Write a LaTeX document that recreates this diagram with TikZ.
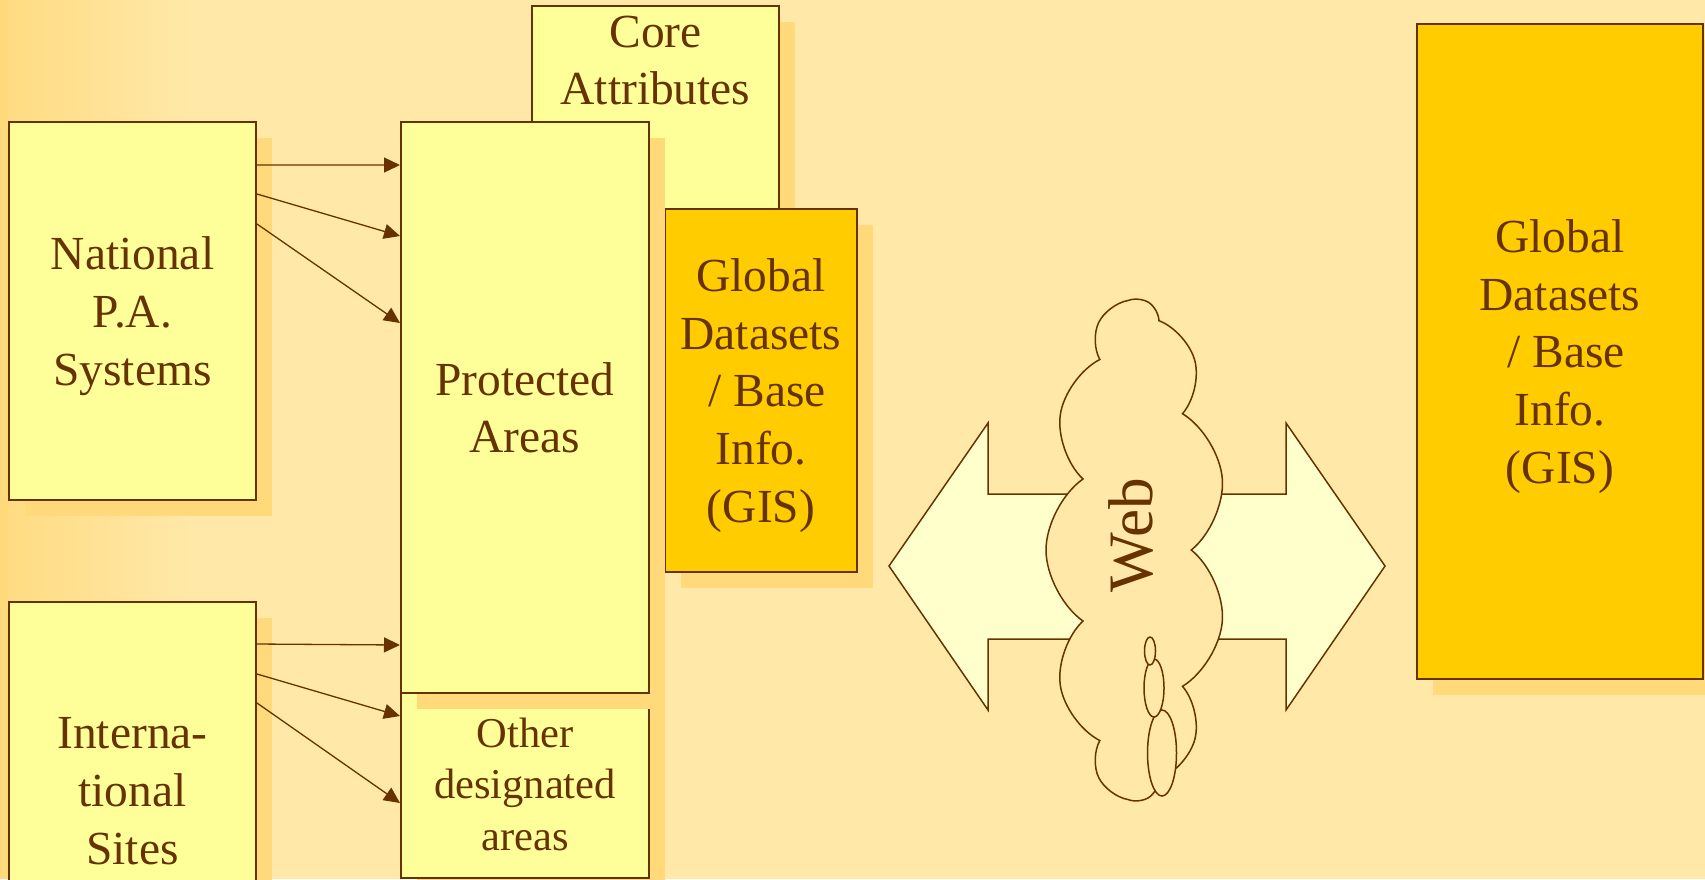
\documentclass[tikz,border=0pt]{standalone}
\usepackage{fontspec}
\setmainfont{Liberation Serif}
\usetikzlibrary{positioning,shadows,shapes.symbols,arrows.meta}
\definecolor{bgcol}{HTML}{FFE8A8}
\definecolor{shadecol}{HTML}{FFD97A}
\definecolor{ink}{HTML}{663300}
\definecolor{paleyel}{HTML}{FFFF99}
\definecolor{gold}{HTML}{FFCC00}
\definecolor{cream}{HTML}{FFFFCC}

\begin{document}
\begin{tikzpicture}[x=0.1mm,y=-0.1mm,
    txt/.style={inner sep=0pt,align=center,text=ink,font=\fontsize{13.5}{16.4}\selectfont},
    box/.style={txt,text depth=0pt,draw=ink,line width=0.2mm,fill=paleyel,
      drop shadow={shadow xshift=1.6mm,shadow yshift=-1.6mm,fill=shadecol,opacity=1}},
    goldbox/.style={box,fill=gold},
    link/.style={draw=ink,line width=0.13mm,-{Triangle[length=1.6mm,width=1.5mm]}}]
  \useasboundingbox (0,0) rectangle (1705,879);
  \clip (0,0) rectangle (1705,879);
  \fill[bgcol] (0,0) rectangle (1705,879);
  \fill[shadecol] (0,0) rectangle (8,879);
  \shade[left color=shadecol!80!bgcol,right color=bgcol] (8,0) rectangle (190,879);

  \node[box,minimum width=24.7mm,minimum height=30mm] (core) at (655.5,156) {};
  \node[txt,below=1mm of core.north] (coretext) {Core\\Attributes};
  \node[goldbox,minimum width=19.2mm,minimum height=36.3mm] (gis) at (761,390.5)
    {Global\\Datasets\\\hspace*{.25em}/ Base\\Info.\\(GIS)};
  \node[box,minimum width=24.8mm,minimum height=18.8mm,font=\fontsize{12.1}{14.7}\selectfont]
    (other) at (525,784) {Other\\designated\\areas};
  \node[box,minimum width=24.8mm,minimum height=57.1mm] (protected) at (525,407.5) {Protected\\Areas};
  \node[box,minimum width=24.7mm,minimum height=37.8mm] (national) at (132.5,311) {National\\P.A.\\Systems};
  \node[box,minimum width=24.7mm,minimum height=37.8mm] (intl) at (132.5,791) {Interna-\\tional\\Sites};

  \draw[link] ([yshift=-4.4mm]national.north east) -- ([yshift=-4.4mm]protected.north west);
  \draw[link] ([yshift=-7.3mm]national.north east) -- ([yshift=-11.5mm]protected.north west);
  \draw[link] ([yshift=-10.3mm]national.north east) -- ([yshift=-20.2mm]protected.north west);
  \draw[link] ([yshift=-4.3mm]intl.north east) -- ([yshift=4.9mm]protected.south west);
  \draw[link] ([yshift=-7.3mm]intl.north east) -- ([yshift=-2.7mm]other.north west);
  \draw[link] ([yshift=-10.2mm]intl.north east) -- ([yshift=-11.4mm]other.north west);

  \draw[ink,fill=cream,line width=0.15mm] (889,566) -- (988,423) -- (988,494) -- (1286,494)
    -- (1286,423) -- (1385,566) -- (1286,710) -- (1286,639) -- (988,639) -- (988,710) -- cycle;
  \node[cloud,cloud puffs=11,cloud puff arc=110,aspect=2.8,rotate=90,draw=ink,fill=bgcol,
    line width=0.15mm,inner sep=0pt,minimum width=50mm,minimum height=18mm] (web) at (1136,550) {};
  \draw[ink,fill=bgcol,line width=0.15mm] (1162,753) ellipse [x radius=14.5,y radius=43];
  \draw[ink,fill=bgcol,line width=0.15mm] (1154,688) ellipse [x radius=10,y radius=29];
  \draw[ink,fill=bgcol,line width=0.15mm] (1150,651) ellipse [x radius=5.5,y radius=14];
  \node[txt,rotate=90,font=\fontsize{18}{20}\selectfont] (webtext) at (1131,535) {Web};

  \node[goldbox,minimum width=28.6mm,minimum height=65.5mm] (gisbig) at (1560,351.5)
    {Global\\Datasets\\\hspace*{.25em}/ Base\\Info.\\(GIS)};
\end{tikzpicture}
\end{document}
